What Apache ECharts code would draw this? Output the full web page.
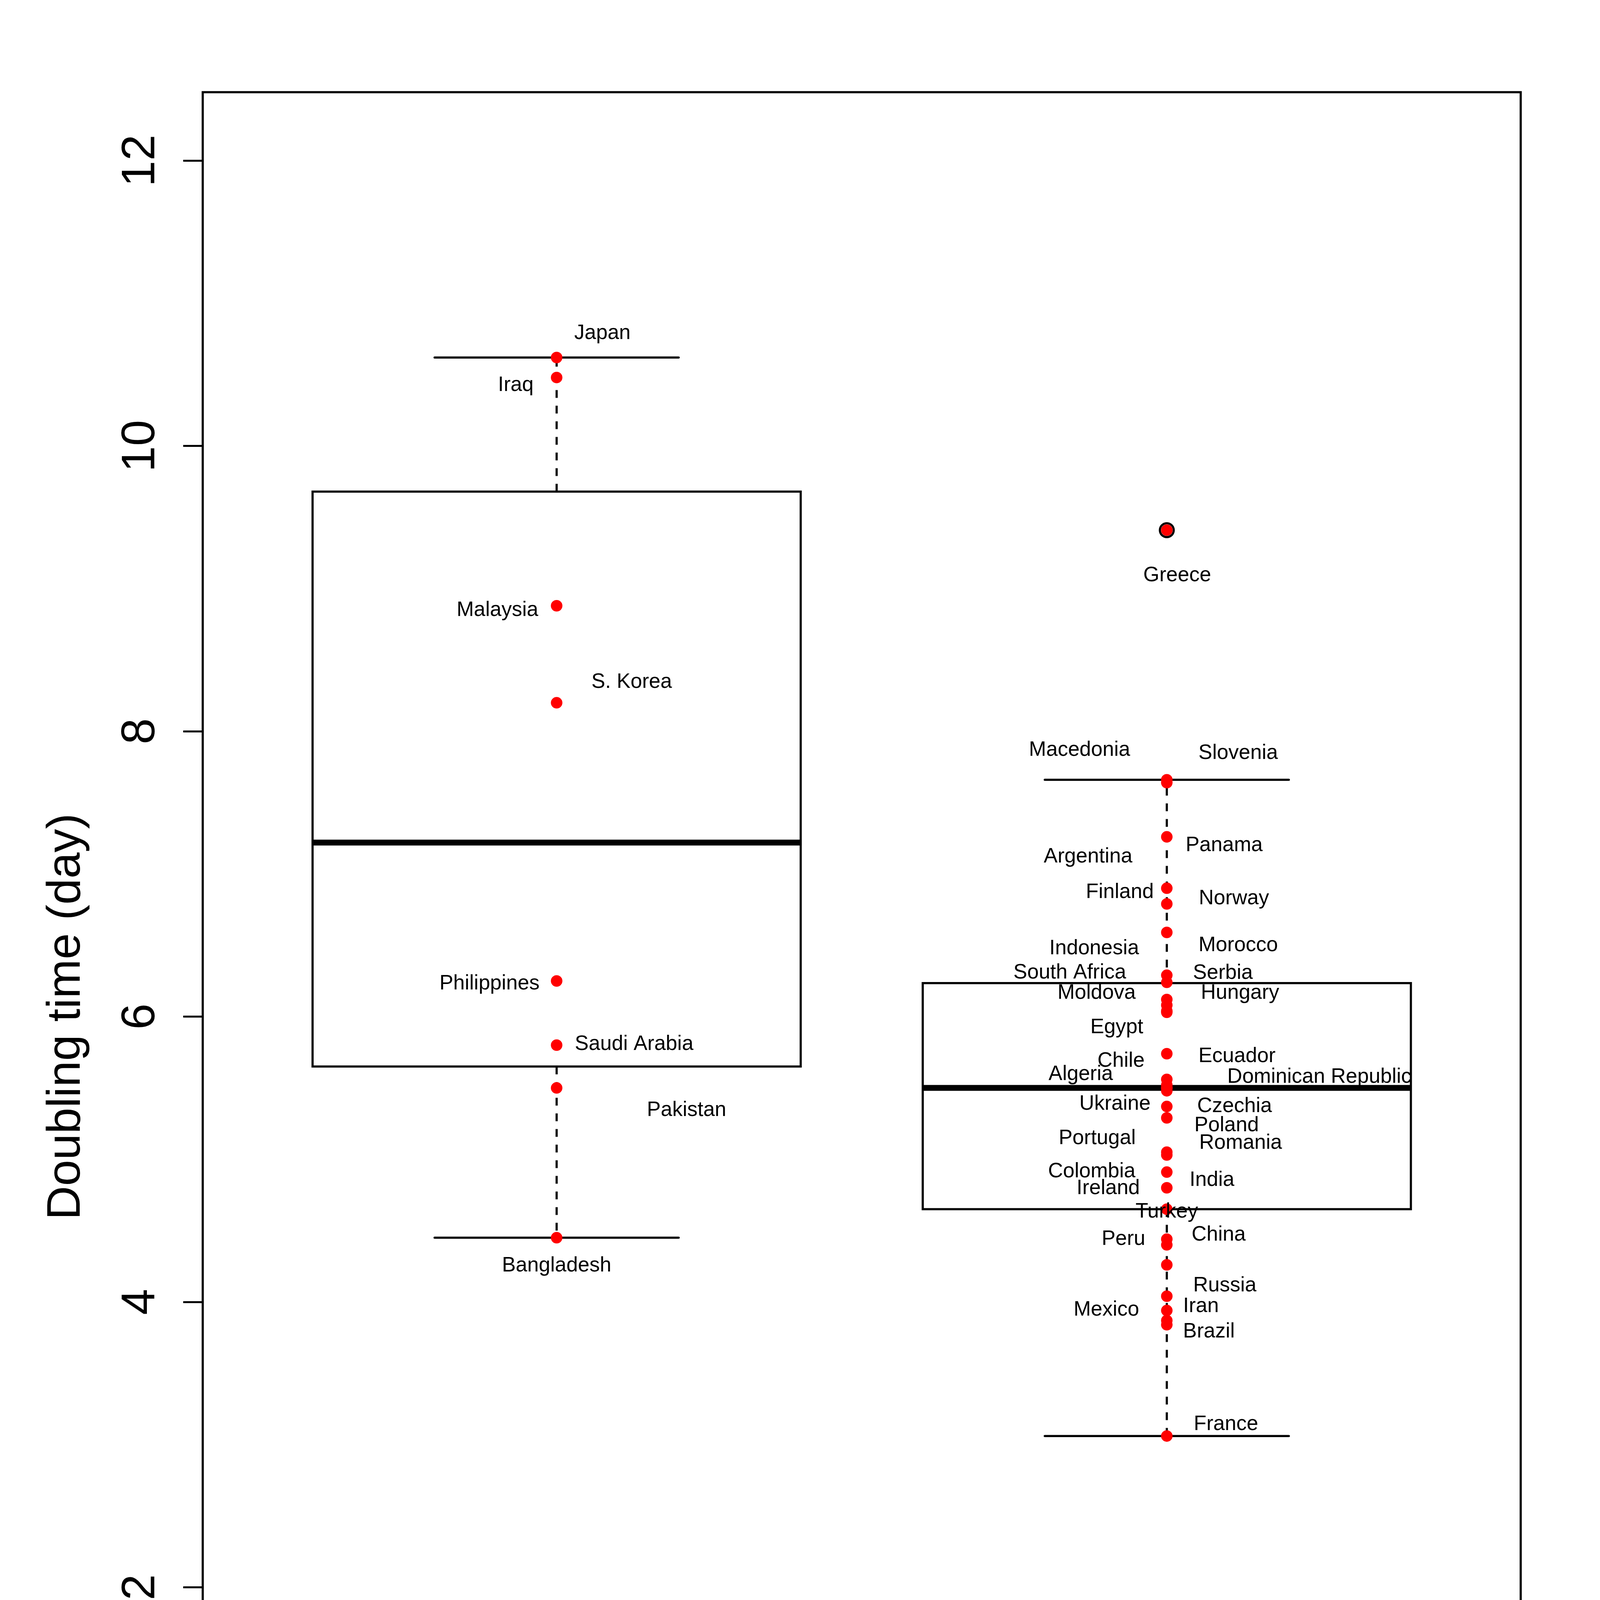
<!DOCTYPE html>
<html>
<head>
<meta charset="utf-8">
<script src="https://cdn.jsdelivr.net/npm/echarts@6/dist/echarts.min.js"></script>
<style>
html,body{margin:0;padding:0;background:#ffffff;}
#chart{width:4166px;height:5321px;}
</style>
</head>
<body>
<div id="chart"></div>
<script>
// ---------------- DATA ----------------
const groups = ['Tokyo 172\u22121', 'Other BCG strains'];
const groupPos = [1, 2];
const yTicks = [0, 2, 4, 6, 8, 10, 12];

const tokyoCountries = ['Japan', 'Iraq', 'Malaysia', 'S. Korea', 'Philippines', 'Saudi Arabia', 'Pakistan', 'Bangladesh'];
const tokyoValues = [10.62, 10.48, 8.88, 8.20, 6.25, 5.80, 5.50, 4.45];

const otherCountries = ['Greece', 'Macedonia', 'Slovenia', 'Panama', 'Argentina', 'Finland', 'Norway', 'Indonesia',
  'Morocco', 'South Africa', 'Serbia', 'Moldova', 'Hungary', 'Egypt', 'Chile', 'Ecuador', 'Algeria',
  'Dominican Republic', 'Ukraine', 'Czechia', 'Poland', 'Portugal', 'Romania', 'Colombia', 'India',
  'Ireland', 'Turkey', 'Peru', 'China', 'Russia', 'Mexico', 'Iran', 'Brazil', 'France'];
const otherValues = [9.41, 7.66, 7.64, 7.26, 6.90, 6.79, 6.59, 6.29,
  6.24, 6.12, 6.08, 6.04, 6.03, 5.74, 5.56, 5.52, 5.50,
  5.50, 5.48, 5.37, 5.29, 5.05, 5.03, 4.91, 4.80,
  4.26, 4.65, 4.44, 4.40, 4.04, 3.94, 3.87, 3.84, 3.06];

// box statistics: [lower whisker, Q1, median, Q3, upper whisker]
const tokyoStats = [4.45, 5.65, 7.22, 9.68, 10.62];
const otherStats = [3.06, 4.65, 5.50, 6.235, 7.66];
const otherOutliers = [9.41];

// ---------------- LAYOUT (label anchors, data coordinates) ----------------
const labelAnchors = {
  'Japan': [1.075, 10.79], 'Iraq': [0.933, 10.425], 'Malaysia': [0.903, 8.847], 'S. Korea': [1.123, 8.343],
  'Philippines': [0.890, 6.231], 'Saudi Arabia': [1.127, 5.807], 'Pakistan': [1.213, 5.343], 'Bangladesh': [1.000, 4.252],
  'Greece': [2.017, 9.091], 'Macedonia': [1.857, 7.867], 'Slovenia': [2.117, 7.846], 'Panama': [2.094, 7.201],
  'Argentina': [1.871, 7.121], 'Finland': [1.923, 6.871], 'Norway': [2.110, 6.826], 'Indonesia': [1.881, 6.477],
  'Morocco': [2.117, 6.498], 'South Africa': [1.841, 6.308], 'Serbia': [2.092, 6.305], 'Moldova': [1.885, 6.164],
  'Hungary': [2.120, 6.164], 'Egypt': [1.918, 5.923], 'Ecuador': [2.115, 5.722], 'Chile': [1.925, 5.687],
  'Algeria': [1.859, 5.594], 'Dominican Republic': [2.250, 5.575], 'Ukraine': [1.915, 5.388], 'Czechia': [2.111, 5.371],
  'Poland': [2.098, 5.237], 'Portugal': [1.886, 5.145], 'Romania': [2.121, 5.114], 'Colombia': [1.877, 4.912],
  'India': [2.074, 4.852], 'Ireland': [1.904, 4.796], 'Turkey': [2.000, 4.631], 'China': [2.085, 4.471],
  'Peru': [1.929, 4.439], 'Russia': [2.095, 4.113], 'Iran': [2.056, 3.969], 'Mexico': [1.901, 3.944],
  'Brazil': [2.069, 3.791], 'France': [2.097, 3.142]
};

// ---------------- CHART ----------------
const FONT = '"Liberation Sans", Arial, Helvetica, sans-serif';
const LW = 5.5;
const BOX_HALF = 0.4, STAPLE_HALF = 0.2;

const boxData = [
  [groupPos[0]].concat(tokyoStats),
  [groupPos[1]].concat(otherStats)
];
const pointData = [];
tokyoValues.forEach(v => pointData.push([groupPos[0], v]));
otherValues.forEach(v => pointData.push([groupPos[1], v]));
const outlierData = otherOutliers.map(v => [groupPos[1], v]);
const allNames = tokyoCountries.concat(otherCountries);
const labelData = allNames.map(n => labelAnchors[n]);

const chart = echarts.init(document.getElementById('chart'), null, {renderer: 'canvas', devicePixelRatio: 1});
chart.setOption({
  animation: false,
  backgroundColor: '#ffffff',
  grid: {left: 519, right: 273, top: 236, bottom: 352, show: true, borderColor: '#000000', borderWidth: LW, backgroundColor: 'transparent'},
  xAxis: {
    type: 'value', min: 0.42, max: 2.58, position: 'bottom',
    axisLine: {show: false, onZero: false}, splitLine: {show: false},
    axisTick: {show: true, inside: false, length: 50, customValues: groupPos, lineStyle: {color: '#000', width: 5}},
    axisLabel: {show: true, customValues: groupPos, margin: 79, fontSize: 120, fontFamily: FONT, color: '#000',
      formatter: v => { const i = groupPos.indexOf(v); return i >= 0 ? groups[i] : ''; }}
  },
  yAxis: {
    type: 'value', min: -0.48, max: 12.48, position: 'left',
    name: 'Doubling time (day)', nameLocation: 'middle', nameRotate: 90, nameGap: 288,
    nameTextStyle: {fontSize: 120, fontFamily: FONT, color: '#000'},
    axisLine: {show: false, onZero: false}, splitLine: {show: false},
    axisTick: {show: true, inside: false, length: 50, customValues: yTicks, lineStyle: {color: '#000', width: 5}},
    axisLabel: {show: true, customValues: yTicks, rotate: 90, margin: 97, fontSize: 120, fontFamily: FONT, color: '#000',
      formatter: v => String(v)}
  },
  series: [
    {type: 'custom', clip: false, z: 2, data: boxData,
      renderItem: function (params, api) {
        const x = api.value(0);
        const lo = api.value(1), q1 = api.value(2), med = api.value(3), q3 = api.value(4), hi = api.value(5);
        const L = api.coord([x - BOX_HALF, q3]);
        const R = api.coord([x + BOX_HALF, q1]);
        const cMed = [api.coord([x - BOX_HALF, med]), api.coord([x + BOX_HALF, med])];
        const cx = api.coord([x, q3])[0];
        const yHi = api.coord([x, hi])[1], yLo = api.coord([x, lo])[1];
        const yQ3 = L[1], yQ1 = R[1];
        const sL = api.coord([x - STAPLE_HALF, hi])[0], sR = api.coord([x + STAPLE_HALF, hi])[0];
        const solid = {stroke: '#000', lineWidth: LW, lineCap: 'round', fill: null};
        const dashed = {stroke: '#000', lineWidth: LW, lineDash: [20, 20], lineCap: 'butt', fill: null};
        return {type: 'group', children: [
          {type: 'line', shape: {x1: cx, y1: yQ3, x2: cx, y2: yHi}, style: dashed},
          {type: 'line', shape: {x1: cx, y1: yQ1, x2: cx, y2: yLo}, style: dashed},
          {type: 'line', shape: {x1: sL, y1: yHi, x2: sR, y2: yHi}, style: solid},
          {type: 'line', shape: {x1: sL, y1: yLo, x2: sR, y2: yLo}, style: solid},
          {type: 'rect', shape: {x: L[0], y: yQ3, width: R[0] - L[0], height: yQ1 - yQ3}, style: {stroke: '#000', lineWidth: LW, fill: null}},
          {type: 'line', shape: {x1: cMed[0][0], y1: cMed[0][1], x2: cMed[1][0], y2: cMed[1][1]}, style: {stroke: '#000', lineWidth: 15, lineCap: 'butt', fill: null}}
        ]};
      }},
    {type: 'scatter', z: 3, data: outlierData, symbol: 'circle', symbolSize: 35.5,
      itemStyle: {color: 'rgba(0,0,0,0)', borderColor: '#000', borderWidth: 5.5, opacity: 1}},
    {type: 'scatter', z: 4, data: pointData, symbol: 'circle', symbolSize: 29.5, itemStyle: {color: '#FF0000', opacity: 1}},
    {type: 'custom', clip: false, z: 5, data: labelData,
      renderItem: function (params, api) {
        const p = api.coord([api.value(0), api.value(1)]);
        return {type: 'text', x: p[0], y: p[1], style: {text: allNames[params.dataIndex], fill: '#000', fontSize: 53, fontFamily: FONT, align: 'center', verticalAlign: 'middle'}};
      }}
  ]
});
</script>
</body>
</html>
